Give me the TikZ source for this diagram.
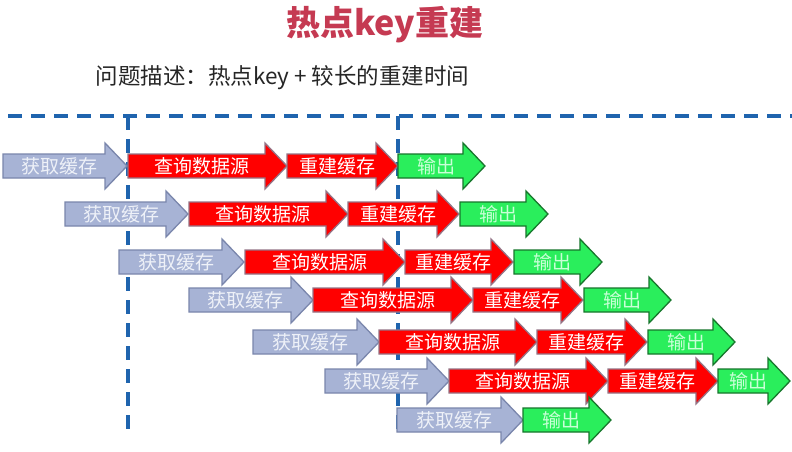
\documentclass[tikz,border=0pt]{standalone}
\usepackage{fontspec}
\setmainfont{Noto Sans CJK SC}
\definecolor{titlered}{HTML}{C53A52}
\definecolor{dashblue}{HTML}{1F64AE}
\definecolor{grayfill}{HTML}{A7B3D5}
\definecolor{grayline}{HTML}{7A86AC}
\definecolor{graytext}{HTML}{EEF1F8}
\definecolor{redfill}{HTML}{FF0000}
\definecolor{redline}{HTML}{957486}
\definecolor{greenfill}{HTML}{2AEE5C}
\definecolor{greenline}{HTML}{17762C}
\definecolor{greentext}{HTML}{C9FFD7}
\tikzset{
  grayA/.style={fill=grayfill,draw=grayline,line width=1.3pt,line join=miter},
  redA/.style={fill=redfill,draw=redline,line width=1.3pt,line join=miter},
  greenA/.style={fill=greenfill,draw=greenline,line width=1.3pt,line join=miter},
  grayA text/.style={text=graytext,font=\fontsize{19}{19}\selectfont,inner sep=0pt},
  redA text/.style={text=white,font=\fontsize{19}{19}\selectfont,inner sep=0pt},
  greenA text/.style={text=greentext,font=\fontsize{19}{19}\selectfont,inner sep=0pt},
  dashln/.style={draw=dashblue,line width=3.2pt,dash pattern=on 14pt off 9pt},
  titletext/.style={text=titlered,font=\bfseries\fontsize{34}{34}\selectfont},
  subtext/.style={text=black!85,font=\fontsize{22.5}{22.5}\selectfont,anchor=west}
}
% #1 name, #2 style, #3 x start, #4 x tip, #5 y centre, #6 label
\newcommand\harrow[6]{%
  \draw[#2] (#3,#5-12) -- (#4-22,#5-12) -- (#4-22,#5-23) -- (#4,#5) -- (#4-22,#5+23) -- (#4-22,#5+12) -- (#3,#5+12) -- cycle;
  \node[#2 text] (#1) at ({(#3+#4-11)/2},#5) {#6};
}
\begin{document}
\begin{tikzpicture}[x=1pt,y=-1pt]
\useasboundingbox (0,0) rectangle (792,451);
\fill[white] (0,0) rectangle (792,451);
\node[titletext] (title) at (385,25) {热点key重建};
\node[subtext] (sub) at (92,78) {问题描述：热点key + 较长的重建时间};
% dashed frame
\coordinate (hl) at (8,116);
\coordinate (hr) at (792,116);
\coordinate (v1t) at (128,116);
\coordinate (v1b) at (128,437);
\coordinate (v2t) at (398,116);
\coordinate (v2b) at (398,437);
\draw[dashln] (hl) -- (hr);
\draw[dashln] (v1t) -- (v1b);
\draw[dashln] (v2t) -- (v2b);
% row 1
\harrow{g1}{grayA}{3}{127}{166}{获取缓存}
\harrow{q1}{redA}{128}{287}{166}{查询数据源}
\harrow{r1}{redA}{287}{398}{166}{重建缓存}
\harrow{o1}{greenA}{398}{485}{166}{输出}
% row 2
\harrow{g2}{grayA}{65}{188}{214}{获取缓存}
\harrow{q2}{redA}{189}{348}{214}{查询数据源}
\harrow{r2}{redA}{348}{459}{214}{重建缓存}
\harrow{o2}{greenA}{460}{548}{214}{输出}
% row 3
\harrow{g3}{grayA}{119}{244}{262}{获取缓存}
\harrow{q3}{redA}{245}{405}{262}{查询数据源}
\harrow{r3}{redA}{405}{513}{262}{重建缓存}
\harrow{o3}{greenA}{514}{602}{262}{输出}
% row 4
\harrow{g4}{grayA}{189}{313}{300}{获取缓存}
\harrow{q4}{redA}{313}{473}{300}{查询数据源}
\harrow{r4}{redA}{473}{583}{300}{重建缓存}
\harrow{o4}{greenA}{584}{671}{300}{输出}
% row 5
\harrow{g5}{grayA}{253}{379}{342}{获取缓存}
\harrow{q5}{redA}{379}{537}{342}{查询数据源}
\harrow{r5}{redA}{537}{647}{342}{重建缓存}
\harrow{o5}{greenA}{648}{735}{342}{输出}
% row 6
\harrow{g6}{grayA}{325}{449}{381}{获取缓存}
\harrow{q6}{redA}{449}{608}{381}{查询数据源}
\harrow{r6}{redA}{608}{718}{381}{重建缓存}
\harrow{o6}{greenA}{718}{790}{381}{输出}
% row 7
\harrow{g7}{grayA}{397}{523}{420}{获取缓存}
\harrow{o7}{greenA}{523}{611}{420}{输出}
\end{tikzpicture}
\end{document}
